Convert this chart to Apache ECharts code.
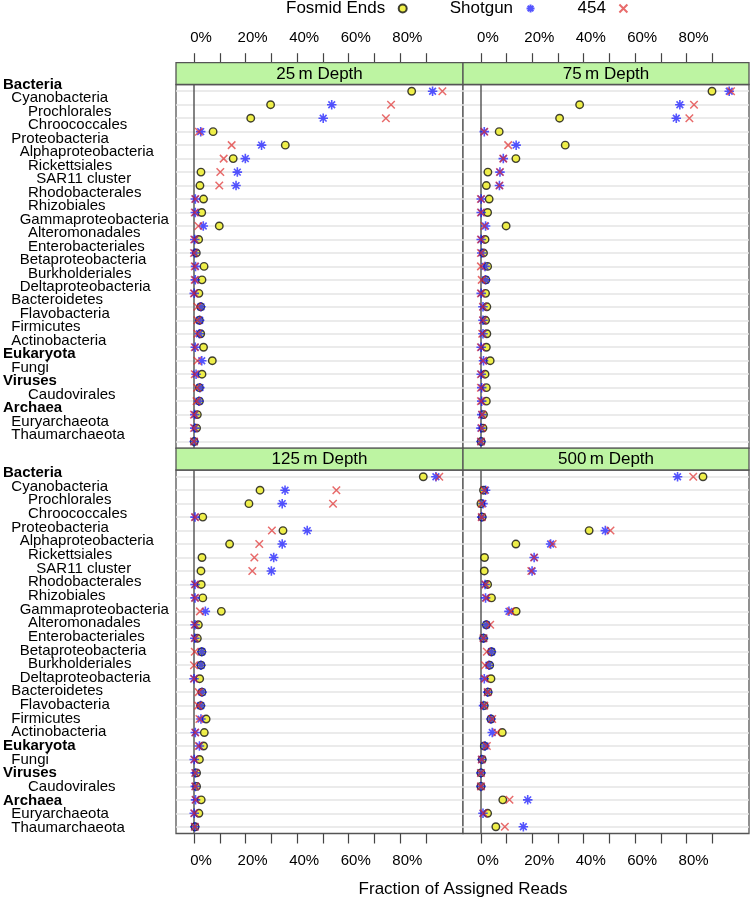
<!DOCTYPE html>
<html><head><meta charset="utf-8">
<script src="https://cdn.jsdelivr.net/npm/echarts@6/dist/echarts.min.js"></script>
<style>html,body{margin:0;padding:0;background:#fff}#c{width:750px;height:897px}</style>
</head><body><div id="c"></div>
<script>
const categories = ['Bacteria','Cyanobacteria','Prochlorales','Chroococcales','Proteobacteria','Alphaproteobacteria','Rickettsiales','SAR11 cluster','Rhodobacterales','Rhizobiales','Gammaproteobacteria','Alteromonadales','Enterobacteriales','Betaproteobacteria','Burkholderiales','Deltaproteobacteria','Bacteroidetes','Flavobacteria','Firmicutes','Actinobacteria','Eukaryota','Fungi','Viruses','Caudovirales','Archaea','Euryarchaeota','Thaumarchaeota'];
// indentation of each label, in spaces (0 = top-level, bold)
const indents = [0,2,6,6,2,4,6,8,6,6,4,6,6,4,6,4,2,4,2,2,0,2,0,6,0,2,2];
const depths = ['25\u2009m Depth','75\u2009m Depth','125\u2009m Depth','500\u2009m Depth'];
const seriesNames = ['Fosmid Ends','Shotgun','454'];

const fosmid_25  = [84.4,29.7,22.0,7.4,35.4,15.2,2.7,2.3,3.7,3.0,9.8,1.8,0.9,3.9,3.1,1.9,2.6,2.1,2.6,3.7,7.1,3.1,2.1,2.1,1.3,1.0,0.1];
const shotgun_25 = [92.5,53.4,50.1,2.6,26.2,19.9,16.8,16.3,0.5,0.5,3.6,0.3,0.3,0.6,0.5,0.1,2.7,2.2,2.1,0.5,3.0,0.8,2.3,1.9,0.3,0.3,0.1];
const r454_25    = [96.3,76.4,74.4,1.9,14.6,11.5,10.2,9.8,0.5,0.3,1.7,0.1,0.0,0.3,0.3,0.0,1.3,1.3,1.3,0.3,1.3,0.3,1.2,1.0,0.0,0.0,0.0];

const fosmid_75  = [89.9,38.4,30.6,7.1,32.8,13.6,2.7,2.1,3.2,2.6,9.8,1.6,1.0,2.6,1.9,1.8,2.3,1.8,2.3,2.1,3.6,1.6,2.1,2.1,1.0,0.8,0.1];
const shotgun_75 = [96.6,77.4,76.0,1.3,13.7,8.7,7.4,7.2,0.1,0.1,1.8,0.1,0.3,1.6,1.8,0.1,0.8,0.8,0.8,0.1,1.0,0.1,0.3,0.3,0.3,0.0,0.0];
const r454_75    = [97.3,82.9,81.1,1.3,10.6,8.7,7.4,7.2,0.0,0.0,1.3,0.0,0.0,0.0,0.3,0.0,0.8,0.8,0.5,0.0,0.8,0.0,0.0,0.0,0.5,0.3,0.0];

const fosmid_125  = [88.9,25.6,21.3,3.4,34.5,13.8,3.1,2.7,2.8,3.4,10.6,1.7,1.3,3.0,2.7,2.2,3.1,2.6,4.7,4.0,3.7,2.1,1.0,1.0,2.8,1.9,0.4];
const shotgun_125 = [93.8,35.3,34.2,0.4,43.9,34.2,30.9,30.0,0.4,0.4,4.4,0.4,0.3,3.0,2.7,0.0,3.1,2.6,2.7,0.5,2.1,0.1,0.5,0.5,0.6,0.1,0.3];
const r454_125    = [95.1,55.2,53.9,0.4,30.2,25.3,23.4,22.6,0.4,0.4,2.3,0.3,0.3,0.3,0.0,0.0,1.8,1.6,2.1,0.5,1.8,0.1,0.5,0.5,0.6,0.1,0.3];

const fosmid_500  = [86.4,1.0,0.0,0.5,42.1,13.6,1.4,1.3,2.6,4.1,13.7,2.1,1.0,4.1,3.4,3.9,2.8,1.3,3.9,8.3,1.3,0.5,0.0,0.0,8.5,2.6,5.8];
const shotgun_500 = [76.5,1.8,0.8,0.3,48.4,27.1,20.7,19.9,1.6,1.8,10.9,2.1,1.0,4.1,3.1,1.3,2.6,1.0,3.9,4.4,1.6,0.3,0.0,0.0,18.2,0.8,16.5];
const r454_500    = [82.6,1.3,0.3,0.3,50.4,27.9,20.7,19.6,1.8,2.1,11.6,3.6,1.0,2.3,1.6,1.6,2.6,1.3,4.4,6.2,2.3,0.3,0.0,0.0,11.1,1.0,9.3];

const xTicks = [0,10,20,30,40,50,60,70,80,90];
const xTickLabels = [0,20,40,60,80];

const panelData = [
  [fosmid_25, shotgun_25, r454_25],
  [fosmid_75, shotgun_75, r454_75],
  [fosmid_125, shotgun_125, r454_125],
  [fosmid_500, shotgun_500, r454_500]
];

const FONT = "'Liberation Sans', Arial, Helvetica, sans-serif";
const XMIN = -6.98, XMAX = 104.3;
const STRIP_H = 21.8;
const panels = [
  {left:176, top:84.5, width:287, height:363.8},
  {left:463, top:84.5, width:286, height:363.8},
  {left:176, top:470,  width:287, height:363.5},
  {left:463, top:470,  width:286, height:363.5}
];
const ASTER = 'path://M5 0L5 10M0 5L10 5M1.46 1.46L8.54 8.54M8.54 1.46L1.46 8.54';
const CROSS = 'path://M0 0L10 10M10 0L0 10';
const BORDER = '#555';

const grids = panels.map(p => ({left:p.left, top:p.top, width:p.width, height:p.height, show:true, borderColor:BORDER, borderWidth:1.3, backgroundColor:'#fff', containLabel:false}));
// hidden grids carrying the row labels of the left column
grids.push({left:176, top:78, width:10, height:363.8, show:false});
grids.push({left:176, top:465.97, width:10, height:368.8, show:false});

const xAxes = panels.map((p,i) => ({
  type:'value', gridIndex:i, min:XMIN, max:XMAX,
  position: i < 2 ? 'top' : 'bottom',
  offset: i < 2 ? STRIP_H : 0,
  axisLine:{show:false}, splitLine:{show:false},
  axisTick:{show:true, customValues:xTicks, length: i < 2 ? 9.5 : 10, lineStyle:{color:'#444', width:1.2}},
  axisLabel:{show:true, customValues:xTickLabels, formatter: v => v + '%', margin: i < 2 ? 17 : 20,
    fontSize:15, fontFamily:FONT, color:'#000', padding:[0,0,0,14]}
}));
xAxes.push({type:'value', gridIndex:4, min:0, max:1, show:false});
xAxes.push({type:'value', gridIndex:5, min:0, max:1, show:false});

const rich = {
  b:{fontWeight:'bold', fontSize:15, fontFamily:FONT, color:'#000'}
};
[2,4,6,8].forEach(n => { rich['i'+n] = {fontSize:15, fontFamily:FONT, color:'#000', padding:[0,0,0,n*4.17]}; });

const yAxes = panels.map((p,i) => ({
  type:'category', gridIndex:i, inverse:true, data:categories,
  axisLine:{show:false}, axisTick:{show:false}, axisLabel:{show:false}, splitLine:{show:false}
}));
[4,5].forEach(g => yAxes.push({
  type:'category', gridIndex:g, inverse:true, data:categories,
  axisLine:{show:false}, axisTick:{show:false}, splitLine:{show:false},
  axisLabel:{show:true, interval:0, align:'left', margin:176, fontSize:15, fontFamily:FONT, color:'#000',
    formatter:(v, idx) => indents[idx] === 0 ? '{b|' + v + '}' : '{i' + indents[idx] + '|' + v + '}',
    rich: rich}
}));

const styles = [
  {symbol:'circle', symbolSize:7.5, itemStyle:{color:'#eded1f', borderColor:'#111', borderWidth:1.4}},
  {symbol:ASTER, symbolSize:9.5, itemStyle:{color:'rgba(0,0,0,0)', borderColor:'rgba(20,20,255,0.9)', borderWidth:1.6}},
  {symbol:CROSS, symbolSize:7.5, itemStyle:{color:'rgba(0,0,0,0)', borderColor:'rgba(222,38,38,0.85)', borderWidth:1.5}}
];

const series = [];
panelData.forEach((arrs, p) => {
  arrs.forEach((vals, k) => {
    const s = {
      type:'scatter', name:seriesNames[k], xAxisIndex:p, yAxisIndex:p,
      data: vals.map((v, i) => [v, i]),
      symbol:styles[k].symbol, symbolSize:styles[k].symbolSize, itemStyle:styles[k].itemStyle,
      z: 3 + k, silent:true, animation:false, emphasis:{disabled:true}
    };
    if (k === 0) {
      s.markLine = {
        silent:true, symbol:['none','none'], z:1, animation:false, label:{show:false},
        emphasis:{disabled:true},
        data: categories.map((c, i) => ({yAxis:i, lineStyle:{color:'#e4e4e4', width:1.5, type:'solid'}}))
          .concat([{xAxis:0, lineStyle:{color:'#5a5a5a', width:1.5, type:'solid'}}])
      };
    }
    series.push(s);
  });
});

const graphics = [];
panels.forEach((p, i) => {
  const sy = p.top - STRIP_H;
  graphics.push({type:'rect', z:10, shape:{x:p.left, y:sy, width:p.width, height:STRIP_H},
    style:{fill:'#bdf4a2', stroke:BORDER, lineWidth:1.3}});
  graphics.push({type:'text', z:11, x:p.left + p.width/2, y:sy + STRIP_H/2 + 0.5,
    style:{text:depths[i], fontSize:17, fontFamily:FONT, fill:'#000', align:'center', verticalAlign:'middle'}});
});
graphics.push({type:'text', z:11, x:463, y:889,
  style:{text:'Fraction of Assigned Reads', fontSize:17, fontFamily:FONT, fill:'#000', align:'center', verticalAlign:'middle'}});

const chart = echarts.init(document.getElementById('c'), null, {renderer:'canvas'});
chart.setOption({
  animation:false,
  backgroundColor:'#fff',
  legend:{data:seriesNames, left:286, top:0, padding:0, itemGap:42, itemWidth:25, itemHeight:8,
    align:'right', selectedMode:false, textStyle:{fontSize:17, fontFamily:FONT, color:'#000'}},
  grid:grids, xAxis:xAxes, yAxis:yAxes, series:series, graphic:graphics
});
</script></body></html>
